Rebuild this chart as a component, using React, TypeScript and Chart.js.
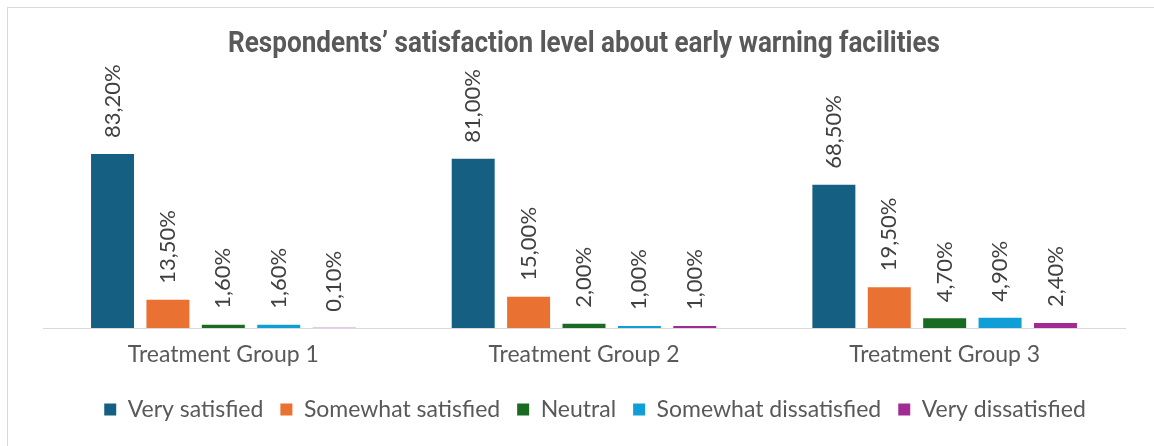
import React, { useEffect, useRef } from "react";
import { Chart, registerables } from "chart.js";

Chart.register(...registerables);

const chartTitle = "Respondents’ satisfaction level about early warning facilities";
const categories = ["Treatment Group 1", "Treatment Group 2", "Treatment Group 3"];
const seriesNames = ["Very satisfied", "Somewhat satisfied", "Neutral", "Somewhat dissatisfied", "Very dissatisfied"];
const verySatisfied = [83.2, 81.0, 68.5];
const somewhatSatisfied = [13.5, 15.0, 19.5];
const neutral = [1.6, 2.0, 4.7];
const somewhatDissatisfied = [1.6, 1.0, 4.9];
const veryDissatisfied = [0.1, 1.0, 2.4];
const seriesColors = ["#156082", "#E97132", "#196B24", "#0F9ED5", "#A02B93"];

const FONT = "Lato, 'Open Sans', sans-serif";

const titlePlugin = {
  id: "scaledTitle",
  afterDraw(chart: any) {
    const ctx = chart.ctx;
    ctx.save();
    ctx.font = "bold 29px Roboto, sans-serif";
    ctx.fillStyle = "#595959";
    ctx.textAlign = "center";
    ctx.textBaseline = "middle";
    const w = ctx.measureText(chartTitle).width;
    const targetW = 712;
    const sx = targetW / w;
    ctx.translate(584, 45);
    ctx.scale(sx, 1);
    ctx.fillText(chartTitle, 0, 0);
    ctx.restore();
  },
};

const legendShiftPlugin = {
  id: "legendShift",
  afterLayout(chart: any) {
    const l = chart.legend;
    if (l) {
      l.left += 11;
      l.right += 11;
    }
  },
};

const valueLabelPlugin = {
  id: "valueLabels",
  afterDatasetsDraw(chart: any) {
    const ctx = chart.ctx;
    ctx.save();
    ctx.font = `22px ${FONT}`;
    ctx.fillStyle = "#404040";
    ctx.textAlign = "left";
    ctx.textBaseline = "middle";
    chart.data.datasets.forEach((ds: any, i: number) => {
      const meta = chart.getDatasetMeta(i);
      meta.data.forEach((bar: any, j: number) => {
        const v = ds.data[j] as number;
        const text = v.toFixed(2).replace(".", ",") + "%";
        ctx.save();
        ctx.translate(bar.x, bar.y - 16);
        ctx.rotate(-Math.PI / 2);
        ctx.fillText(text, 0, 0);
        ctx.restore();
      });
    });
    ctx.restore();
  },
};

export default function App() {
  const canvasRef = useRef<HTMLCanvasElement | null>(null);

  useEffect(() => {
    if (!canvasRef.current) return;
    const values = [verySatisfied, somewhatSatisfied, neutral, somewhatDissatisfied, veryDissatisfied];
    const chart = new Chart(canvasRef.current, {
      type: "bar",
      data: {
        labels: categories,
        datasets: seriesNames.map((name, i) => ({
          label: name,
          data: values[i],
          backgroundColor: seriesColors[i],
          borderWidth: 0,
          categoryPercentage: 0.768,
          barPercentage: 0.776,
        })),
      },
      options: {
        animation: false,
        responsive: false,
        layout: { padding: { left: 43, right: 29, top: 119, bottom: 15 } },
        plugins: {
          title: { display: false },
          tooltip: { enabled: false },
          legend: {
            position: "bottom",
            labels: {
              boxWidth: 12,
              boxHeight: 12,
              padding: 17,
              color: "#595959",
              font: { family: FONT, size: 23 },
            },
          },
        },
        scales: {
          x: {
            grid: { display: false },
            border: { display: true, color: "#d9d9d9", width: 1 },
            ticks: { color: "#595959", font: { family: FONT, size: 23 }, padding: 5 },
            afterFit: (scale: any) => {
              scale.height = 53;
            },
          },
          y: { display: false, min: 0, max: 100 },
        },
      },
      plugins: [titlePlugin, valueLabelPlugin, legendShiftPlugin],
    });
    return () => chart.destroy();
  }, []);

  return (
    <div style={{ position: "absolute", left: 0, top: 0, width: 1154, height: 446, overflow: "hidden", background: "#fff" }}>
      <div
        style={{
          position: "absolute",
          left: 7,
          top: 7,
          width: 1160,
          height: 460,
          borderLeft: "1px solid #d9d9d9",
          borderTop: "1px solid #d9d9d9",
        }}
      />
      <canvas ref={canvasRef} width={1154} height={446} style={{ position: "absolute", left: 0, top: 0 }} />
    </div>
  );
}
